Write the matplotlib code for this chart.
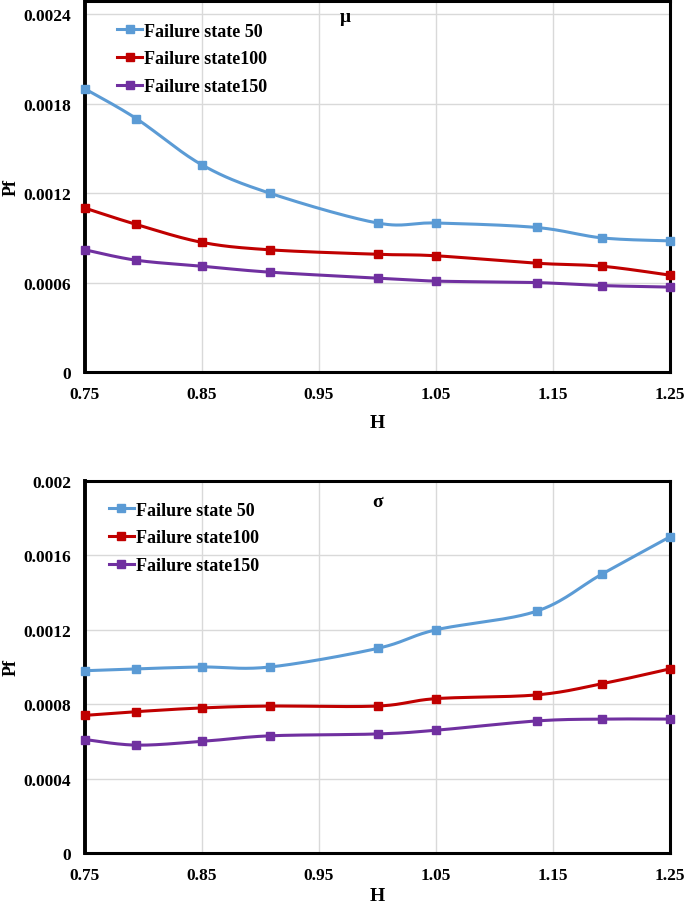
import numpy as np
import matplotlib
matplotlib.use("Agg")
import matplotlib.pyplot as plt

plt.rcParams['font.family'] = ['Liberation Serif', 'DejaVu Serif']
plt.rcParams['font.weight'] = 'bold'

# Data
H = [0.75, 0.794, 0.85, 0.908, 1.0, 1.05, 1.136, 1.192, 1.25]
mu_fs50 = [0.00190, 0.00170, 0.00139, 0.00120, 0.00100, 0.00100, 0.00097, 0.00090, 0.00088]
mu_fs100 = [0.00110, 0.00099, 0.00087, 0.00082, 0.00079, 0.00078, 0.00073, 0.00071, 0.00065]
mu_fs150 = [0.00082, 0.00075, 0.00071, 0.00067, 0.00063, 0.00061, 0.00060, 0.00058, 0.00057]
sd_fs50 = [0.00098, 0.00099, 0.00100, 0.00100, 0.00110, 0.00120, 0.00130, 0.00150, 0.00170]
sd_fs100 = [0.00074, 0.00076, 0.00078, 0.00079, 0.00079, 0.00083, 0.00085, 0.00091, 0.00099]
sd_fs150 = [0.00061, 0.00058, 0.00060, 0.00063, 0.00064, 0.00066, 0.00071, 0.00072, 0.00072]
labels = ['Failure state 50', 'Failure state100', 'Failure state150']
colors = ['#5B9BD5', '#C00000', '#7030A0']
xticks = [0.75, 0.85, 0.95, 1.05, 1.15, 1.25]
yticks_mu = [0, 0.0006, 0.0012, 0.0018, 0.0024]
ytick_labels_mu = ['0', '0.0006', '0.0012', '0.0018', '0.0024']
yticks_sd = [0, 0.0004, 0.0008, 0.0012, 0.0016, 0.002]
ytick_labels_sd = ['0', '0.0004', '0.0008', '0.0012', '0.0016', '0.002']


def smooth(x, y, n=30):
    """Catmull-Rom style smoothing (like Excel smoothed lines) for drawing."""
    x = np.asarray(x, float); y = np.asarray(y, float)
    px = np.concatenate([[x[0]], x, [x[-1]]])
    py = np.concatenate([[y[0]], y, [y[-1]]])
    xs, ys = [], []
    t = np.linspace(0, 1, n)
    for i in range(1, len(px) - 2):
        p0 = np.array([px[i], py[i]])
        p3 = np.array([px[i + 1], py[i + 1]])
        p1 = p0 + (np.array([px[i + 1], py[i + 1]]) - np.array([px[i - 1], py[i - 1]])) / 6
        p2 = p3 - (np.array([px[i + 2], py[i + 2]]) - np.array([px[i], py[i]])) / 6
        b = ((1 - t) ** 3)[:, None] * p0 + (3 * (1 - t) ** 2 * t)[:, None] * p1 + \
            (3 * (1 - t) * t ** 2)[:, None] * p2 + (t ** 3)[:, None] * p3
        xs.extend(b[:, 0]); ys.extend(b[:, 1])
    return np.array(xs), np.array(ys)


fig = plt.figure(figsize=(6.85, 9.04), dpi=100)
ax1 = fig.add_axes([85 / 685, 1 - 373 / 904, 585 / 685, 371 / 904])
ax2 = fig.add_axes([85 / 685, 1 - 854 / 904, 585 / 685, 372 / 904])


def draw(ax, series, yticks, ylabels, ylim, title, title_xy, leg_anchor, xlabel_pad):
    for ys, lab, c in zip(series, labels, colors):
        sx, sy = smooth(H, ys)
        ax.plot(sx, sy, color=c, lw=2.2, zorder=3, clip_on=False)
        ax.plot(H, ys, ls='none', marker='s', ms=5.8, color=c, zorder=4, clip_on=False)
        ax.plot([], [], color=c, lw=2.2, marker='s', ms=5.8, label=lab)
    ax.set_xlim(0.75, 1.25)
    ax.set_ylim(*ylim)
    ax.set_xticks(xticks)
    ax.set_xticklabels([f'{v:.2f}' for v in xticks])
    ax.set_yticks(yticks)
    ax.set_yticklabels(ylabels)
    ax.tick_params(axis='y', length=0, labelsize=12.5, pad=10)
    ax.tick_params(axis='x', length=0, labelsize=12.5, pad=10)
    for lab in ax.get_xticklabels() + ax.get_yticklabels():
        lab.set_fontweight('bold')
    ax.grid(True, color='#D9D9D9', lw=1.0, zorder=0)
    ax.set_axisbelow(True)
    for s in ax.spines.values():
        s.set_linewidth(2.2)
        s.set_color('black')
    ax.spines['left'].set_linewidth(2.8)
    ax.set_xlabel('H', fontsize=14, fontweight='bold', labelpad=xlabel_pad)
    ax.set_ylabel('Pf', fontsize=13, fontweight='bold')
    ax.yaxis.set_label_coords(-65 / 585, 0.5)
    ax.text(title_xy[0], title_xy[1], title, transform=ax.transAxes, fontsize=14,
            fontweight='bold', ha='center', va='center')
    ax.legend(loc='upper left', bbox_to_anchor=leg_anchor, frameon=False,
              prop={'size': 13, 'weight': 'bold'}, handlelength=1.4,
              handletextpad=0.1, labelspacing=0.6, borderaxespad=0.2)


draw(ax1, [mu_fs50, mu_fs100, mu_fs150], yticks_mu, ytick_labels_mu, (0, 0.00249),
     'μ', ((345 - 85) / 585, 1 - 15 / 371), (0.036, 0.971), 9)
draw(ax2, [sd_fs50, sd_fs100, sd_fs150], yticks_sd, ytick_labels_sd, (0, 0.002),
     'σ', ((378 - 85) / 585, 1 - (503 - 482) / 372), (0.022, 0.974), 3)

fig.savefig('out.png', dpi=100)
